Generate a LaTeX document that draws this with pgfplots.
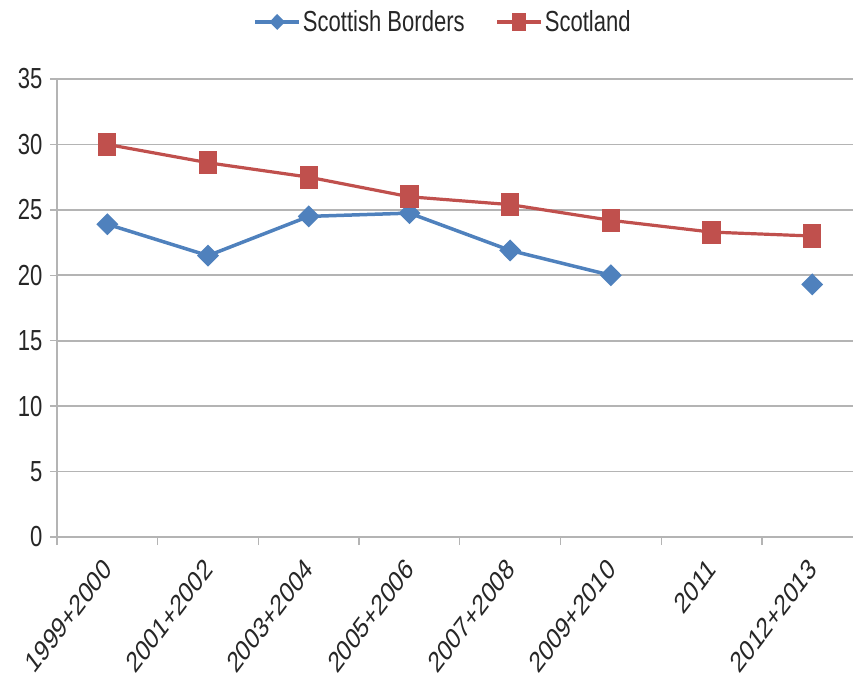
\documentclass[border=0pt]{standalone}
\usepackage{fontspec}
\setmainfont[FakeStretch=0.76]{Liberation Sans}
\newfontfamily\plainfont{Liberation Sans}
\usepackage{pgfplots}
\pgfplotsset{compat=1.18}
\definecolor{sbblue}{HTML}{4F81BD}
\definecolor{scred}{HTML}{C0504D}
\definecolor{gridgray}{HTML}{B4B4B4}
\begin{document}
\begin{tikzpicture}
\begin{axis}[
  at={(0,0)}, anchor=south west,
  scale only axis, width=796bp, height=458bp,
  xmin=-0.5, xmax=7.405, ymin=0, ymax=35,
  ytick={0,5,...,35},
  xtick={0,...,7},
  xticklabels={1999+2000,2001+2002,2003+2004,2005+2006,2007+2008,2009+2010,2011,2012+2013},
  xtick style={draw=none},
  extra x ticks={-0.5,0.5,1.5,2.5,3.5,4.5,5.5,6.5},
  extra x tick labels={},
  extra x tick style={xtick style={draw=gridgray, line width=1.3bp}, major tick length=8bp, grid=none},
  axis x line*=bottom, axis y line*=left,
  axis line style={draw=gridgray, line width=1.6bp, -},
  ymajorgrids, grid style={draw=gridgray, line width=1.6bp},
  tick align=outside, major tick length=7bp,
  ytick style={draw=gridgray, line width=1.3bp},
  ticklabel style={font=\fontsize{29bp}{34bp}\selectfont, text=black!85},
  /pgf/number format/assume math mode=true,
  xticklabel style={font=\plainfont\fontsize{22bp}{26bp}\selectfont, yshift=-17bp, xshift=3bp, yscale=1.32, rotate=45, anchor=east},
  yticklabel style={xshift=-4bp},
  unbounded coords=jump,
  legend style={at={(0.485,1.1245)}, anchor=center, draw=none, fill=none,
    font=\fontsize{29bp}{34bp}\selectfont, text=black!85,
    legend columns=-1,
    /tikz/every even column/.append style={column sep=29bp}},
  legend image code/.code={
    \draw[#1, mark size=5.5bp, mark repeat=2, mark phase=2] plot coordinates {(0bp,0bp) (22bp,0bp) (44bp,0bp)};
  },
]
\addplot[sbblue, line width=3.5bp, mark=diamond*, mark size=8.5bp, mark options={xscale=1.33, solid, fill=sbblue}]
  coordinates {(0,23.9) (1,21.5) (2,24.5) (3,24.75) (4,21.9) (5,20.0) (6,nan) (7,19.3)};
\addlegendentry{Scottish Borders}
\addplot[scred, line width=3.2bp, mark=square*, mark size=7.5bp, mark options={yscale=1.33, solid, fill=scred}]
  coordinates {(0,30.0) (1,28.6) (2,27.5) (3,26.0) (4,25.4) (5,24.2) (6,23.3) (7,23.0)};
\addlegendentry{Scotland}
\end{axis}
\pgfresetboundingbox
\useasboundingbox (-57bp,-141bp) rectangle (796bp,537bp);
\end{tikzpicture}
\end{document}
